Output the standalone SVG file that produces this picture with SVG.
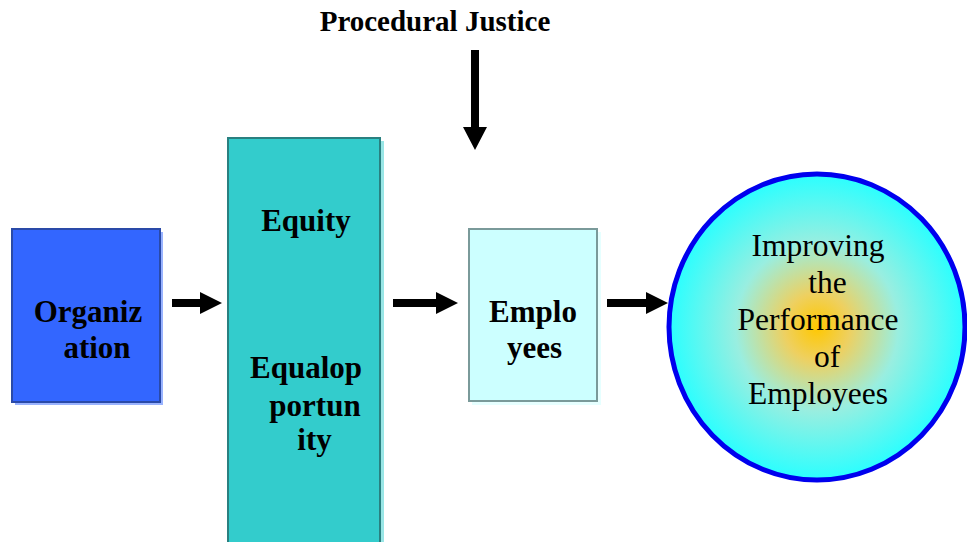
<svg xmlns="http://www.w3.org/2000/svg" width="967" height="542" viewBox="0 0 967 542">
<style>
.b{font-family:"Liberation Serif","Times New Roman",serif;font-weight:bold;font-size:31px;fill:#000;text-anchor:middle}
.r{font-family:"Liberation Serif","Times New Roman",serif;font-size:31.5px;fill:#000;text-anchor:middle}
.arr{fill:#000}
</style>
<defs>
<radialGradient id="g" cx="50%" cy="50%" r="50%">
<stop offset="0" stop-color="#ffc800"/>
<stop offset="0.22" stop-color="#eed060"/>
<stop offset="0.55" stop-color="#99eee0"/>
<stop offset="1" stop-color="#2affff"/>
</radialGradient>
</defs>
<rect width="967" height="542" fill="#fff"/>
<g id="organization">
<rect x="15" y="232" width="148" height="173" fill="#99b3ff"/>
<rect x="12" y="229" width="148" height="173" fill="#3366ff" stroke="#2a4aa8" stroke-width="2"/>
<text class="b" x="88" y="322">Organiz</text>
<text class="b" x="97" y="358">ation</text>
</g>
<g id="equity">
<rect x="231" y="141" width="153" height="410" fill="#99e6e6"/>
<rect x="228" y="138" width="152" height="410" fill="#33cccc" stroke="#2a8080" stroke-width="2"/>
<text class="b" x="306" y="231">Equity</text>
<text class="b" x="306" y="378">Equalop</text>
<text class="b" x="315" y="416">portun</text>
<text class="b" x="314.5" y="450">ity</text>
</g>
<g id="employees">
<rect x="472" y="232" width="129" height="173" fill="#e6ffff"/>
<rect x="469" y="229" width="128" height="172" fill="#ccffff" stroke="#7a9a9a" stroke-width="2"/>
<text class="b" x="533" y="322">Emplo</text>
<text class="b" x="534.5" y="358">yees</text>
</g>
<g id="performance">
<ellipse cx="817" cy="327" rx="148" ry="153" fill="url(#g)" stroke="#0000ee" stroke-width="5"/>
<text class="r" x="818" y="256">Improving</text>
<text class="r" x="827.5" y="293">the</text>
<text class="r" x="818" y="330">Performance</text>
<text class="r" x="827" y="367">of</text>
<text class="r" x="818" y="404">Employees</text>
</g>
<g id="procedural">
<text class="b" x="435" y="31" style="font-size:29px">Procedural Justice</text>
</g>
<g id="connectors">
<polygon class="arr" points="172,299 200,299 200,292 222,303 200,314 200,307 172,307"/>
<polygon class="arr" points="393,299 436,299 436,292 458,303 436,314 436,307 393,307"/>
<polygon class="arr" points="607,299 646,299 646,292 668,303 646,314 646,307 607,307"/>
<polygon class="arr" points="471,50 479,50 479,127 487,127 475,150 463,127 471,127"/>
</g>
</svg>
